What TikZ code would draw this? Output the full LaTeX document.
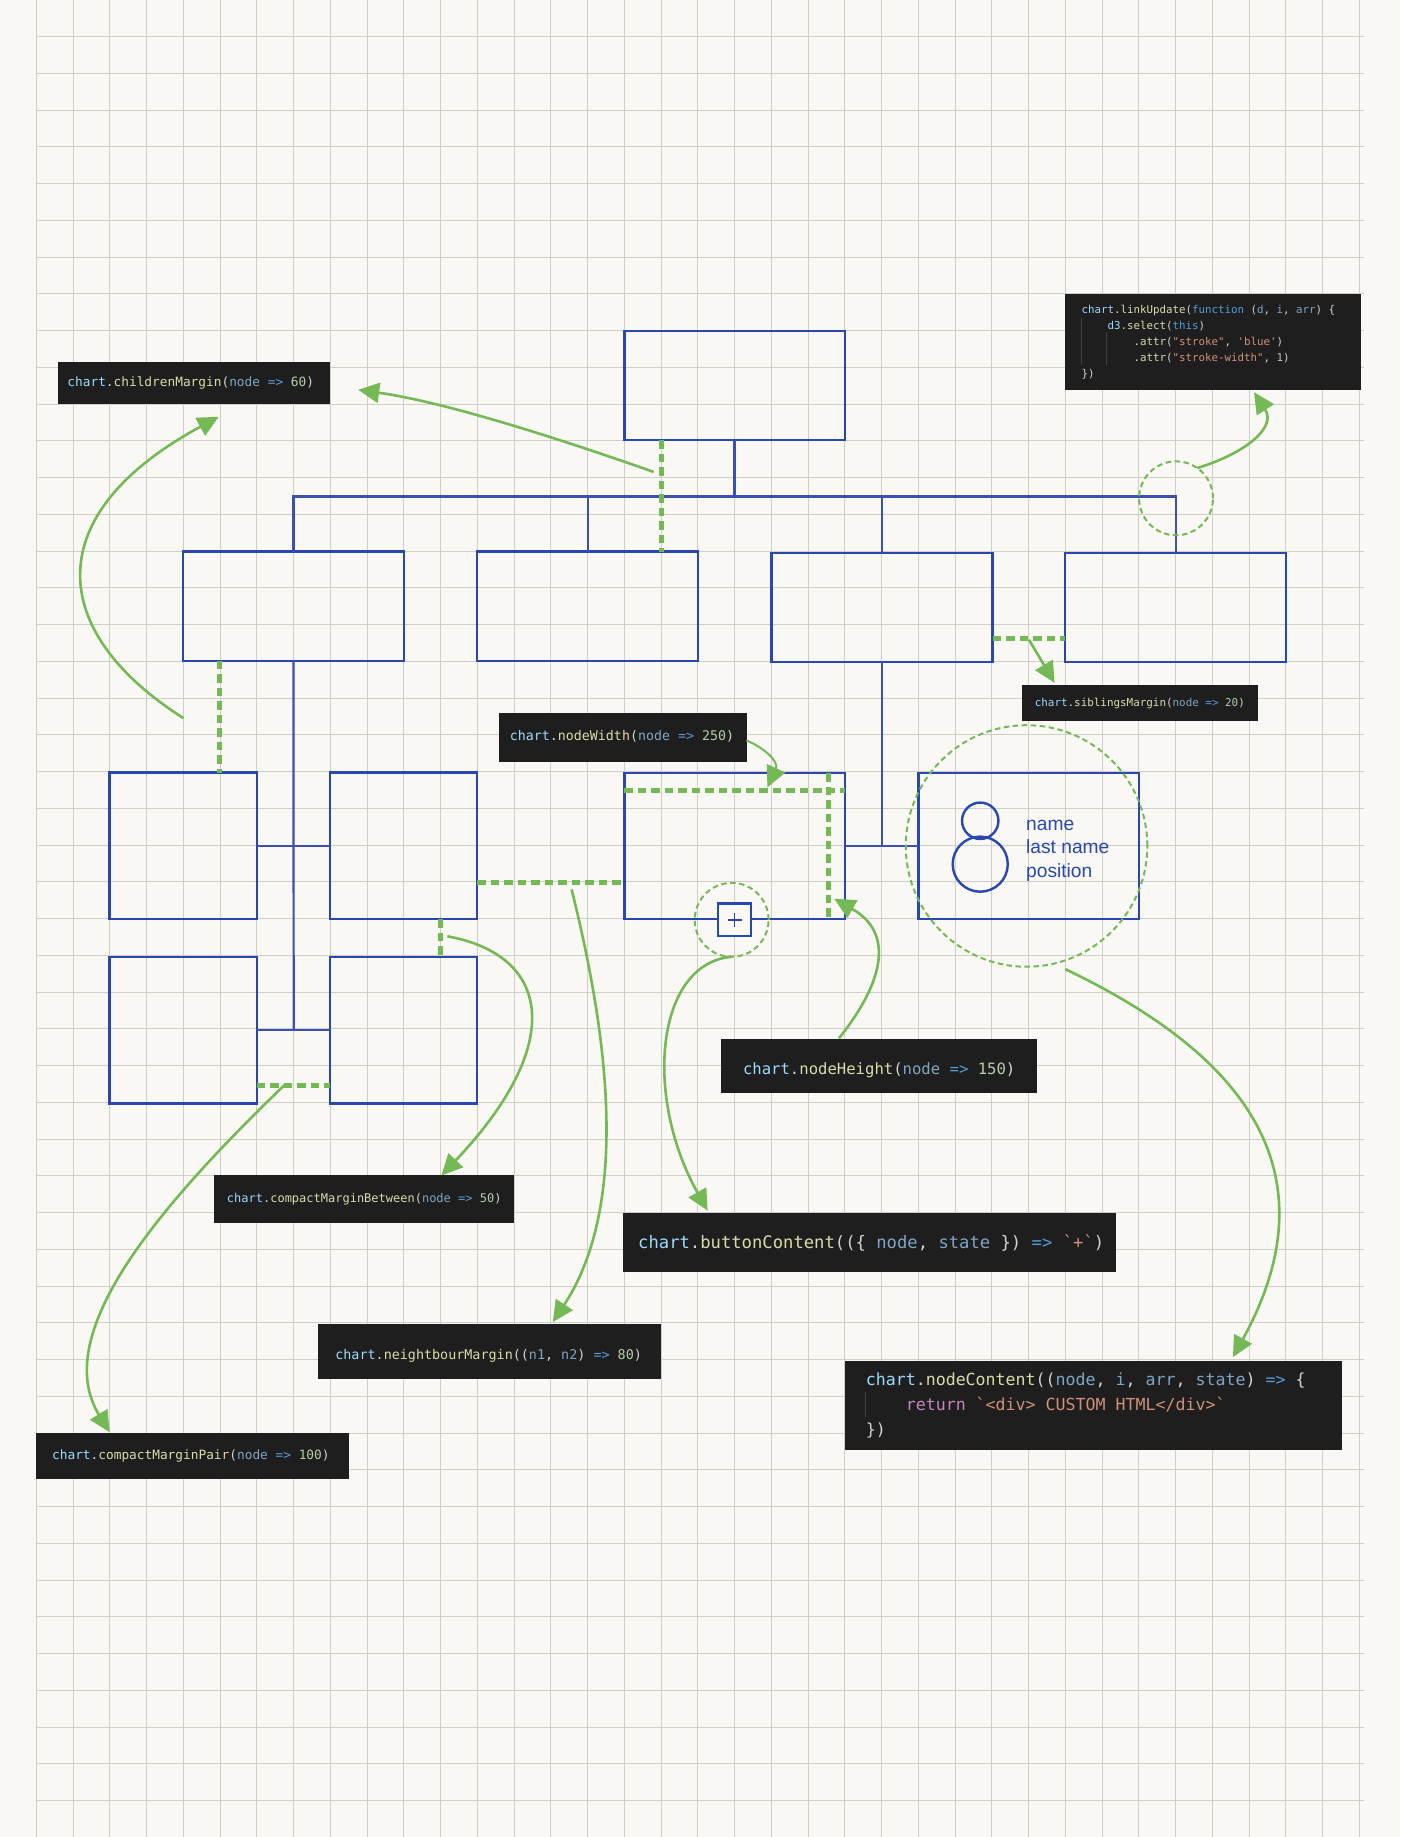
\documentclass[tikz,border=0pt]{standalone}
\usepackage{fontspec}
\setmainfont{Liberation Sans}
\newfontfamily\codefont{DejaVu Sans Mono}
\usetikzlibrary{arrows.meta}
\definecolor{paper}{HTML}{FAF8F4}
\definecolor{gridc}{HTML}{CFCDC8}
\definecolor{boxc}{HTML}{2848B0}
\definecolor{linkc}{HTML}{3D50B0}
\definecolor{grn}{HTML}{75B956}
\definecolor{codebg}{HTML}{1E1E1E}
\definecolor{cpunct}{HTML}{D4D4D4}
\definecolor{cvar}{HTML}{9CDCFE}
\definecolor{cfun}{HTML}{DCDCAA}
\definecolor{cpar}{HTML}{7FA6C4}
\definecolor{ckey}{HTML}{569CD6}
\definecolor{cnum}{HTML}{B5CEA8}
\definecolor{cstr}{HTML}{CE9178}
\definecolor{cret}{HTML}{C586C0}
\definecolor{cguide}{HTML}{404040}
\newcommand{\kc}[1]{\textcolor{cvar}{#1}}
\newcommand{\kf}[1]{\textcolor{cfun}{#1}}
\newcommand{\kp}[1]{\textcolor{cpar}{#1}}
\newcommand{\kk}[1]{\textcolor{ckey}{#1}}
\newcommand{\kn}[1]{\textcolor{cnum}{#1}}
\newcommand{\ks}[1]{\textcolor{cstr}{#1}}
\newcommand{\kr}[1]{\textcolor{cret}{#1}}
\newcommand{\up}[2]{\raisebox{#1}{#2}}
\tikzset{
  gridline/.style={draw=gridc,line width=1pt},
  orgnode/.style={draw=boxc,line width=2.4pt,rectangle,inner sep=0pt,outer sep=0pt},
  orglink/.style={draw=linkc,line width=2.2pt},
  codenode/.style={fill=codebg,rectangle,outer sep=0pt,inner ysep=0pt,align=left,text=cpunct},
  margin/.style={draw=grn,line width=5pt,dash pattern=on 8.5pt off 5pt},
  ring/.style={draw=grn,line width=2pt,dash pattern=on 5.5pt off 3.5pt,circle,inner sep=0pt,outer sep=0pt},
  callout/.style={draw=grn,line width=2.6pt,-{Triangle[length=21pt,width=20pt]}},
  guide/.style={draw=cguide,line width=0.8pt},
  person/.style={draw=boxc,line width=2.4pt,circle,inner sep=0pt,outer sep=0pt},
}
\newcommand{\orgbox}[5]{%
  \pgfmathsetlengthmacro\bw{(#4-#2)*1.1725}%
  \pgfmathsetlengthmacro\bh{(#5-#3)*1.1725}%
  \node[orgnode,minimum width=\bw,minimum height=\bh] (#1) at ({(#2+#4)/2},{(#3+#5)/2}) {};}
% name x1 y1 x2 y2 pad(pt) fontsize leading text
\newcommand{\codebox}[9]{%
  \pgfmathsetlengthmacro\bw{(#4-#2)*1.1725}%
  \pgfmathsetlengthmacro\bh{(#5-#3)*1.1725}%
  \pgfmathsetlengthmacro\tw{(#4-#2)*1.1725-2*#6}%
  \node[codenode,minimum width=\bw,minimum height=\bh,text width=\tw,inner xsep=#6pt,
        font=\codefont\fontsize{#7}{#8}\selectfont] (#1) at ({(#2+#4)/2},{(#3+#5)/2}) {\spaceskip=0.602em\xspaceskip=0.602em\relax #9};}
\begin{document}
\begin{tikzpicture}[x=1.1725pt,y=-1.1725pt]
\useasboundingbox (0,0) rectangle (1194,1566.7);
\fill[paper] (0,0) rectangle (1194,1566.7);
% grid
\foreach \i in {0,...,36} \draw[gridline] ({31.1+31.34*\i},0) -- ({31.1+31.34*\i},1566.7);
\foreach \i in {0,...,49} \draw[gridline] (31,{31.34*\i}) -- (1163,{31.34*\i});
\begin{scope}[xshift=-0.6pt,yshift=0.6pt]
% org nodes
\orgbox{root}{533}{283}{721}{376}
\orgbox{na}{156.5}{471}{345}{564}
\orgbox{nb}{407.5}{471}{596}{564}
\orgbox{nc}{658.5}{472}{847}{565}
\orgbox{nd}{909}{472}{1097.5}{565}
\orgbox{ca}{94}{659.5}{219.5}{784.5}
\orgbox{cb}{282}{659.5}{407.5}{784.5}
\orgbox{cc}{94}{816.5}{219.5}{941.5}
\orgbox{cd}{282}{816.5}{407.5}{941.5}
\orgbox{wn}{533}{660}{721}{784.5}
\orgbox{pn}{784}{660}{972}{784.5}
% links
\coordinate (bus) at (627,424);
\coordinate (trunk) at (251,879);
\draw[orglink] (root.south) -- (bus);
\draw[orglink] (na.north) |- (bus);
\draw[orglink] (nd.north) |- (bus);
\draw[orglink] (nb.north) -- (nb.north |- bus);
\draw[orglink] (nc.north) -- (nc.north |- bus);
\draw[orglink] (na.south) -- (trunk);
\draw[orglink] (ca.east) -- (cb.west);
\draw[orglink] (cc.east) -- (cd.west);
\draw[orglink] (nc.south) -- (nc.south |- wn.east);
\draw[orglink] (wn.east) -- (pn.west);
% person
\node[person,minimum size=36.4pt] (head) at (836.5,700.5) {};
\node[person,minimum size=55.1pt] (body) at (836.5,737.5) {};
\node[anchor=west,align=left,inner sep=0pt,text=boxc,font=\fontsize{19.2}{23.4}\selectfont] (ptext) at (875.5,726) {name\\last name\\position};
% button
\node[orgnode,fill=paper,minimum size=32.8pt] (btn) at (627,785) {};
\node[inner sep=0pt,minimum size=13.5pt] (plus) at (btn.center) {};
\draw[draw=boxc,line width=1.5pt] (plus.west) -- (plus.east);
\draw[draw=boxc,line width=1.5pt] (plus.north) -- (plus.south);
% margins
\coordinate (mroot) at (564.5,0);
\coordinate (mchild) at (188,0);
\coordinate (msib) at (0,545);
\coordinate (mneigh) at (0,753);
\coordinate (mbetw) at (376.5,0);
\coordinate (mpair) at (0,926);
\coordinate (mw) at (0,675);
\coordinate (mh) at (707,0);
\draw[margin] (root.south -| mroot) -- (nb.north -| mroot);
\draw[margin] (na.south -| mchild) -- (ca.north -| mchild);
\draw[margin] (nc.east |- msib) -- (nd.west |- msib);
\draw[margin] (cb.east |- mneigh) -- (wn.west |- mneigh);
\draw[margin] (cb.south -| mbetw) -- (cd.north -| mbetw);
\draw[margin] (cc.east |- mpair) -- (cd.west |- mpair);
\draw[margin] (wn.west |- mw) -- (wn.east |- mw);
\draw[margin] (wn.north -| mh) -- (wn.south -| mh);
% rings
\node[ring,minimum size=73.9pt] (rlink) at (1003.5,425.5) {};
\node[ring,minimum size=73.9pt] (rbtn) at (624.5,785) {};
\node[ring,minimum size=241.5pt] (rperson) at (876,722) {};
% code boxes
\codebox{kchildren}{50}{309.5}{282}{345}{9.4}{12.8}{16}{\up{1.6pt}{\kc{chart}.\kf{childrenMargin}(\kp{node} \kk{=>} \kn{60})}}
\codebox{klink}{909}{251}{1161}{333}{16.4}{10.8}{16}{\kc{chart}.\kf{linkUpdate}(\kk{function} (\kp{d}, \kp{i}, \kp{arr}) \{\\\phantom{0000}\kc{d3}.\kf{select}(\kk{this})\\\phantom{00000000}.\kf{attr}(\ks{"stroke"}, \ks{'blue'})\\\phantom{00000000}.\kf{attr}(\ks{"stroke-width"}, \kn{1})\\\})}
\codebox{ksib}{872}{585}{1073}{615.5}{13}{10.9}{14}{\up{0pt}{\kc{chart}.\kf{siblingsMargin}(\kp{node} \kk{=>} \kn{20})}}
\codebox{kwidth}{426}{608.5}{637.5}{650.5}{11}{13.3}{16}{\up{4.8pt}{\kc{chart}.\kf{nodeWidth}(\kp{node} \kk{=>} \kn{250})}}
\codebox{kheight}{615}{887}{885}{933}{22.5}{15.6}{18}{\rule{0pt}{19pt}\up{0pt}{\kc{chart}.\kf{nodeHeight}(\kp{node} \kk{=>} \kn{150})}}
\codebox{kbetw}{183}{1003}{439}{1043.5}{13}{12}{15}{\up{3.2pt}{\kc{chart}.\kf{compactMarginBetween}(\kp{node} \kk{=>} \kn{50})}}
\codebox{kbtn}{532}{1035}{952}{1085.5}{15}{17.2}{20}{\up{0pt}{\kc{chart}.\kf{buttonContent}((\{ \kp{node}, \kp{state} \}) \kk{=>} \ks{`+`})}}
\codebox{kneigh}{271.5}{1130}{564}{1176.5}{17.6}{13.4}{16}{\rule{0pt}{18pt}\up{0pt}{\kc{chart}.\kf{neightbourMargin}((\kp{n1}, \kp{n2}) \kk{=>} \kn{80})}}
\codebox{kpair}{31}{1223}{298}{1262}{16.4}{12.8}{16}{\up{1pt}{\kc{chart}.\kf{compactMarginPair}(\kp{node} \kk{=>} \kn{100})}}
\codebox{kcontent}{721}{1161}{1145}{1237.5}{21}{16.6}{24.6}{\kc{chart}.\kf{nodeContent}((\kp{node}, \kp{i}, \kp{arr}, \kp{state}) \kk{=>} \{\\\phantom{0000}\kr{return} \ks{`<div> CUSTOM HTML</div>`}\\\})}
% indent guides
\coordinate (ga1) at (922.5,271);
\coordinate (ga2) at (922.5,312);
\coordinate (gb1) at (944.5,284);
\coordinate (gb2) at (944.5,312);
\coordinate (gc1) at (738.6,1188);
\coordinate (gc2) at (738.6,1209);
\draw[guide] (ga1) -- (ga2);
\draw[guide] (gb1) -- (gb2);
\draw[guide] (gc1) -- (gc2);
% callout ends
\coordinate (s1) at (558,403);
\coordinate (e1) at (306,333);
\coordinate (s2) at (157,613);
\coordinate (e2) at (187,356);
\coordinate (e3) at (1070,335);
\coordinate (s4) at (878,546);
\coordinate (e4) at (900,583);
\coordinate (s5) at (637,632);
\coordinate (e5) at (655,672);
\coordinate (s6) at (716,886);
\coordinate (e6) at (712,767);
\coordinate (e7) at (604,1033);
\coordinate (s8) at (382,799);
\coordinate (e8) at (377,1003);
\coordinate (s9) at (488,759);
\coordinate (e9) at (472,1128);
\coordinate (s10) at (243,926);
\coordinate (e10) at (94,1222);
\coordinate (s11) at (909,827);
\coordinate (e11) at (1052,1158);
\draw[callout] (s1) .. controls (450,365) and (370,342) .. (e1);
\draw[callout] (s2) .. controls (42,540) and (32,440) .. (e2);
\draw[callout] (rlink.55) .. controls (1060,388) and (1090,366) .. (e3);
\draw[callout] (s4) -- (e4);
\draw[callout,line width=2pt] (s5) .. controls (652,638) and (665,650) .. (e5);
\draw[callout] (s6) .. controls (745,850) and (770,800) .. (e6);
\draw[callout] (rbtn.south) .. controls (560,822) and (549,935) .. (e7);
\draw[callout] (s8) .. controls (470,815) and (484,890) .. (e8);
\draw[callout] (s9) .. controls (513,860) and (543,1020) .. (e9);
\draw[callout] (s10) .. controls (130,1035) and (44,1140) .. (e10);
\draw[callout] (s11) .. controls (1030,885) and (1150,980) .. (e11);
\end{scope}
\end{tikzpicture}
\end{document}
